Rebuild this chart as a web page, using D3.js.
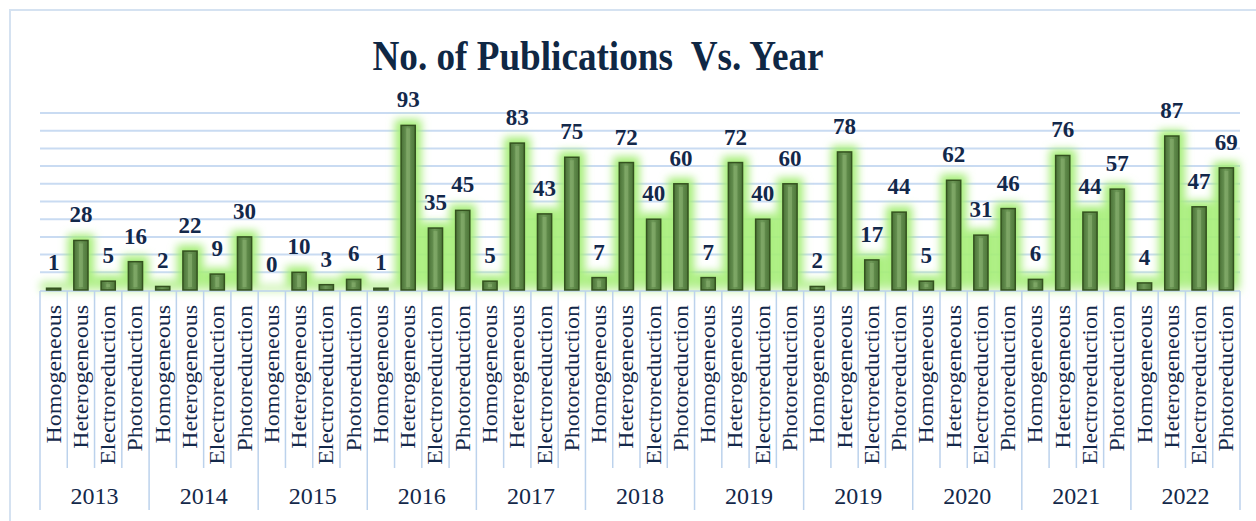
<!DOCTYPE html>
<html>
  <head>
    <meta charset="UTF-8" />
    <script src="https://d3js.org/d3.v7.min.js"></script>
    <style>
      body { margin: 0; background: #fff; }
      text { font-family: "Liberation Serif", "Times New Roman", serif; }
    </style>
  </head>
  <body>
    <div id="chart"></div>
    <script>
      // donnees
      const years = ["2013", "2014", "2015", "2016", "2017", "2018", "2019", "2019", "2020", "2021", "2022"];
      const types = ["Homogeneous", "Heterogeneous", "Electroreduction", "Photoreduction"];
      const counts = [
        [1, 28, 5, 16],
        [2, 22, 9, 30],
        [0, 10, 3, 6],
        [1, 93, 35, 45],
        [5, 83, 43, 75],
        [7, 72, 40, 60],
        [7, 72, 40, 60],
        [2, 78, 17, 44],
        [5, 62, 31, 46],
        [6, 76, 44, 57],
        [4, 87, 47, 69]
      ];
      const yTicks = [10, 20, 30, 40, 50, 60, 70, 80, 90, 100];

      const width = 1256, height = 521;
      const plot = { left: 40, right: 1240, top: 113, bottom: 290 };

      // une ligne par barre
      var rows = [];
      years.forEach((yr, i) => {
        types.forEach((t, j) => {
          rows.push({ id: i * 4 + j, group: i, year: yr, type: t, value: counts[i][j] });
        });
      });

      var svg = d3.select("#chart").append("svg")
        .attr("width", width)
        .attr("height", height);

      var defs = svg.append("defs");
      defs.append("filter").attr("id", "glow")
        .attr("x", "-80%").attr("y", "-30%").attr("width", "260%").attr("height", "160%")
        .append("feGaussianBlur").attr("stdDeviation", 4);
      var grad = defs.append("linearGradient").attr("id", "barFill")
        .attr("x1", "0").attr("x2", "1").attr("y1", "0").attr("y2", "0");
      grad.append("stop").attr("offset", "0%").attr("stop-color", "#4a7237");
      grad.append("stop").attr("offset", "45%").attr("stop-color", "#6e9958");
      grad.append("stop").attr("offset", "100%").attr("stop-color", "#4c7538");

      // cadre
      svg.append("rect")
        .attr("x", 10).attr("y", 10)
        .attr("width", 1300).attr("height", 600)
        .attr("fill", "none")
        .attr("stroke", "#d5e2f1")
        .attr("stroke-width", 2);

      var x = d3.scaleBand()
        .domain(rows.map(d => d.id))
        .range([plot.left, plot.right])
        .paddingInner(0.48)
        .paddingOuter(0.24);
      var step = x.step();

      var y = d3.scaleLinear()
        .domain([0, 100])
        .range([plot.bottom, plot.top]);

      // grille
      svg.append("g").selectAll("line")
        .data(yTicks)
        .join("line")
        .attr("x1", plot.left).attr("x2", plot.right)
        .attr("y1", d => y(d)).attr("y2", d => y(d))
        .attr("stroke", "#c9dbf2")
        .attr("stroke-width", 2);

      // halo vert
      var halo = svg.append("g").attr("filter", "url(#glow)");
      halo.selectAll("rect")
        .data(rows.filter(d => d.value > 0))
        .join("rect")
        .attr("x", d => x(d.id) - 6)
        .attr("y", d => y(d.value) - 6)
        .attr("width", x.bandwidth() + 12)
        .attr("height", d => y(0) - y(d.value) + 6)
        .attr("fill", "#a6ee78");
      halo.append("rect")
        .attr("x", plot.left).attr("y", y(0) - 5)
        .attr("width", plot.right - plot.left).attr("height", 6)
        .attr("fill", "#c4f2a4");

      // axe horizontal
      svg.append("line")
        .attr("x1", plot.left).attr("x2", plot.right)
        .attr("y1", y(0) + 1).attr("y2", y(0) + 1)
        .attr("stroke", "#bcd2ec").attr("stroke-width", 1.5);

      // barres
      var bars = svg.append("g").selectAll("g")
        .data(rows.filter(d => d.value > 0))
        .join("g");
      bars.append("rect")
        .attr("x", d => x(d.id))
        .attr("y", d => y(d.value))
        .attr("width", x.bandwidth())
        .attr("height", d => y(0) - y(d.value))
        .attr("fill", "url(#barFill)")
        .attr("stroke", "#34521f")
        .attr("stroke-width", 1.5);
      bars.filter(d => y(0) - y(d.value) > 8).append("rect")
        .attr("x", d => x(d.id) + x.bandwidth() / 2 - 2)
        .attr("y", d => y(d.value) + 3)
        .attr("width", 4)
        .attr("height", d => y(0) - y(d.value) - 6)
        .attr("fill", "#88b070")
        .attr("opacity", 0.6);

      // valeurs
      svg.append("g").selectAll("text")
        .data(rows)
        .join("text")
        .attr("x", d => x(d.id) + x.bandwidth() / 2)
        .attr("y", d => y(d.value) - 18)
        .attr("text-anchor", "middle")
        .attr("font-size", 23)
        .attr("font-weight", "bold")
        .attr("fill", "#13284a")
        .text(d => d.value);

      // separateurs des categories
      var sepColor = "#bcd2ec";
      svg.append("g").selectAll("line")
        .data(d3.range(rows.length + 1))
        .join("line")
        .attr("x1", i => plot.left + i * step)
        .attr("x2", i => plot.left + i * step)
        .attr("y1", y(0) + 1)
        .attr("y2", i => (i % 4 == 0 ? 510 : 468))
        .attr("stroke", sepColor)
        .attr("stroke-width", 1.5);

      // libelles des categories
      svg.append("g").selectAll("text")
        .data(rows)
        .join("text")
        .attr("transform", d => "translate(" + (x(d.id) + x.bandwidth() / 2 + 7) + ",305) scale(0.88,1) rotate(-90)")
        .attr("text-anchor", "end")
        .attr("font-size", 24)
        .attr("fill", "#13284a")
        .text(d => d.type);

      // annees
      svg.append("g").selectAll("text")
        .data(years)
        .join("text")
        .attr("x", (d, i) => plot.left + (i * 4 + 2) * step)
        .attr("y", 504)
        .attr("text-anchor", "middle")
        .attr("font-size", 24)
        .attr("fill", "#13284a")
        .text(d => d);

      // titre
      svg.append("text")
        .attr("transform", "translate(598,70) scale(0.885,1)")
        .attr("text-anchor", "middle")
        .attr("font-size", 42)
        .attr("font-weight", "bold")
        .attr("fill", "#0f2744")
        .style("white-space", "pre")
        .text("No. of Publications  Vs. Year");
    </script>
  </body>
</html>
